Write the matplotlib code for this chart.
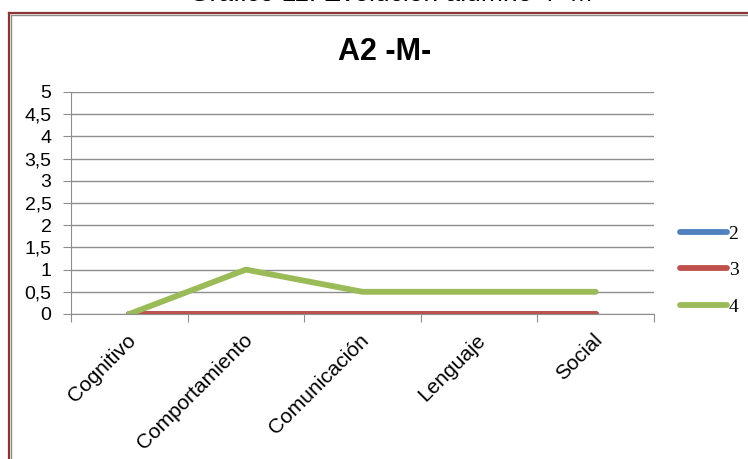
import matplotlib
matplotlib.use("Agg")
import matplotlib.pyplot as plt
from matplotlib.lines import Line2D
from matplotlib.transforms import ScaledTranslation

# datos
areas = ["Cognitivo", "Comportamiento", "Comunicación", "Lenguaje", "Social"]
serie_2 = [0, 0, 0, 0, 0]
serie_3 = [0, 0, 0, 0, 0]
serie_4 = [0, 1, 0.5, 0.5, 0.5]
nombres = ["2", "3", "4"]
colores = ["#4F81BD", "#C0504D", "#9BBB59"]
yticks = [0, 0.5, 1, 1.5, 2, 2.5, 3, 3.5, 4, 4.5, 5]

W, H = 748, 459
fig = plt.figure(figsize=(W / 100, H / 100), dpi=100)
fig.patch.set_facecolor("white")

# marco del gráfico (borde superior e izquierdo)
def px(x, y):
    return x / W, 1 - y / H

x0, y0 = px(9, 13)
x1, _ = px(W + 2, 13)
_, y1 = px(9, H + 2)
fig.add_artist(Line2D([x0 + 1.5 / W, x1], [y0 - 1.5 / H, y0 - 1.5 / H], color="#8C8C8C", lw=1.0))
fig.add_artist(Line2D([x0 + 1.5 / W, x0 + 1.5 / W], [y0 - 1.5 / H, y1], color="#8C8C8C", lw=1.0))
fig.add_artist(Line2D([x0, x1], [y0, y0], color="#8B3434", lw=1.6))
fig.add_artist(Line2D([x0, x0], [y0, y1], color="#8B3434", lw=1.6))

# título de la página, cortado arriba
fig.text(395 / W, 1 - 1 / H, "Gráfico 11. Evolución alumno 4 -M-", ha="center",
         va="baseline", fontsize=19, family="Liberation Sans")

ax = fig.add_axes([71 / W, 1 - 314 / H, 583 / W, 222 / H])
x = list(range(len(areas)))
for vals, nom, col in zip([serie_2, serie_3, serie_4], nombres, colores):
    ax.plot(x, vals, color=col, lw=4.2, label=nom, solid_capstyle="round",
            solid_joinstyle="round")

ax.set_xlim(-0.5, len(areas) - 0.5)
ax.set_ylim(0, 5)
ax.set_yticks(yticks)
ax.set_yticklabels([("%g" % v).replace(".", ",") for v in yticks],
                   family="Liberation Sans", fontsize=14)
ax.yaxis.grid(True, color="#8E8E8E", lw=1.0)
ax.set_axisbelow(True)

ax.set_xticks([i - 0.5 for i in range(len(areas) + 1)])
ax.set_xticklabels([])
ax.set_xticks(x, minor=True)
ax.set_xticklabels(areas, minor=True, rotation=45, ha="right", va="top",
                   rotation_mode="anchor", family="Liberation Sans", fontsize=15)
ax.tick_params(axis="x", which="minor", length=0, pad=12)
ax.tick_params(axis="x", which="major", length=6, color="#8E8E8E", direction="out")
ax.tick_params(axis="y", length=6, color="#8E8E8E", pad=8)
for lab in ax.get_xticklabels(minor=True):
    lab.set_transform(lab.get_transform() + ScaledTranslation(-3 / 100, 0, fig.dpi_scale_trans))

for s in ["top", "right"]:
    ax.spines[s].set_visible(False)
for s in ["left", "bottom"]:
    ax.spines[s].set_color("#8E8E8E")

ax.set_title("A2 -M-", fontsize=22, fontweight="bold", family="Liberation Sans",
             x=(385 - 71) / 583, y=1.0, pad=23)

leg = ax.legend(loc="upper left", bbox_to_anchor=(680 / W, 1 - 225 / H),
                bbox_transform=fig.transFigure, frameon=False,
                prop={"family": "Liberation Serif", "size": 14},
                handlelength=2.4, handletextpad=0.1, labelspacing=0.97,
                borderaxespad=0, borderpad=0)

fig.savefig("out.png", dpi=100)
